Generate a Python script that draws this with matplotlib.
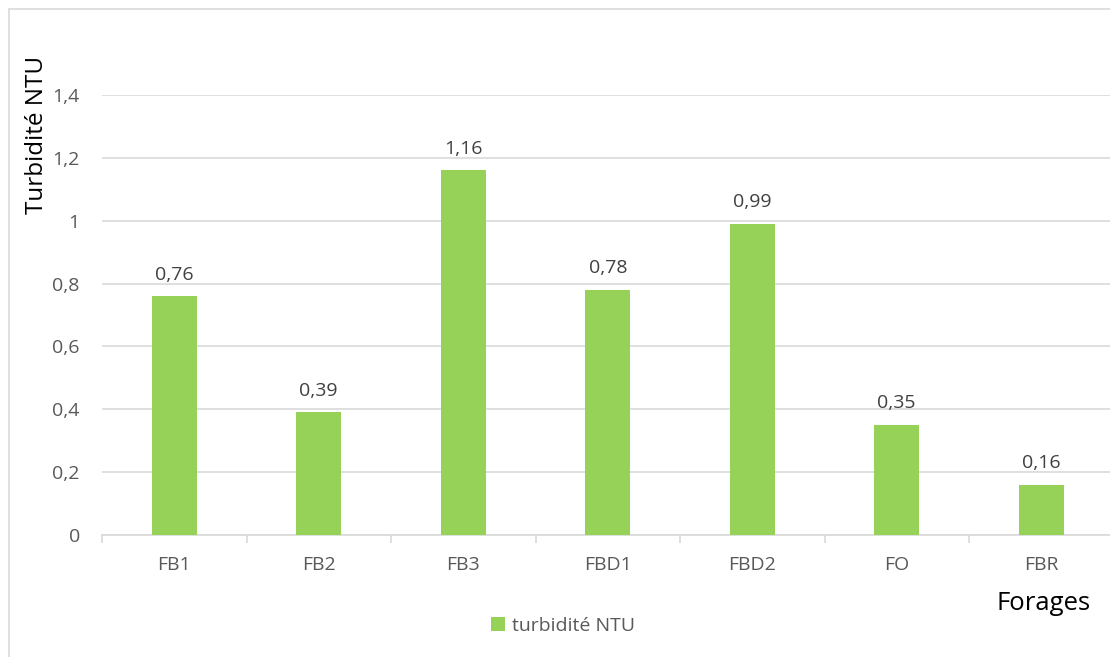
import matplotlib
matplotlib.use("Agg")
import matplotlib.pyplot as plt
from matplotlib.patches import Rectangle
from matplotlib.ticker import FixedLocator

plt.rcParams['font.family'] = ['Open Sans', 'DejaVu Sans']

categories = ["FB1", "FB2", "FB3", "FBD1", "FBD2", "FO", "FBR"]
turbidity = [0.76, 0.39, 1.16, 0.78, 0.99, 0.35, 0.16]
y_ticks = [0, 0.2, 0.4, 0.6, 0.8, 1.0, 1.2, 1.4]

W, H = 1110, 657
fig = plt.figure(figsize=(W / 100, H / 100), dpi=100)

# light outer frame of the chart area
fig.patches.append(Rectangle((9 / W, -0.1), 1.2, 1 - 9 / H + 0.1,
                             transform=fig.transFigure, fill=False,
                             edgecolor="#D9D9D9", linewidth=1.2, zorder=0))

ax = fig.add_axes([102 / W, (H - 535) / H, 1011.5 / W, 440 / H])

green = "#96D158"
grey_text = "#595959"
grid = "#D9D9D9"

x = list(range(len(categories)))
bars = ax.bar(x, turbidity, width=0.31, color=green, zorder=3,
              label="turbidité NTU")

for xi, v in zip(x, turbidity):
    ax.annotate(f"{v:.2f}".replace(".", ","), (xi, v),
                xytext=(0, 9), textcoords="offset points",
                ha="center", va="bottom", fontsize=14, color="#404040")

ax.set_xlim(-0.5, len(categories) - 0.5)
ax.set_ylim(0, 1.4)
ax.set_yticks(y_ticks)
ax.set_yticklabels([("%g" % t).replace(".", ",") for t in y_ticks])
ax.yaxis.grid(True, color=grid, linewidth=1.2, zorder=0)
ax.set_axisbelow(True)

ax.set_xticks(x)
ax.set_xticklabels(categories)
ax.xaxis.set_minor_locator(FixedLocator([i - 0.5 for i in range(len(categories) + 1)]))
ax.tick_params(axis="x", which="major", length=0, pad=15, labelsize=14,
               labelcolor=grey_text)
ax.tick_params(axis="x", which="minor", length=6, width=1.2, color=grid)
ax.tick_params(axis="y", length=0, pad=16, labelsize=14, labelcolor=grey_text)

for side in ("left", "right", "top"):
    ax.spines[side].set_visible(False)
ax.spines["bottom"].set_color(grid)
ax.spines["bottom"].set_linewidth(1.2)

fig.text(37 / W, 1 - 135 / H, "Turbidité NTU", rotation=90, ha="center",
         va="center", fontsize=17.5, color="black")
fig.text(1091 / W, 1 - 604 / H, "Forages", ha="right", va="center",
         fontsize=18.5, color="black")

fig.legend(handles=[bars], labels=["turbidité NTU"], loc="center",
           bbox_to_anchor=(563 / W, 1 - 626 / H), frameon=False,
           fontsize=14, handlelength=0.75, handleheight=0.75, handletextpad=0.35,
           labelcolor=grey_text)

fig.savefig("out.png", dpi=100)
